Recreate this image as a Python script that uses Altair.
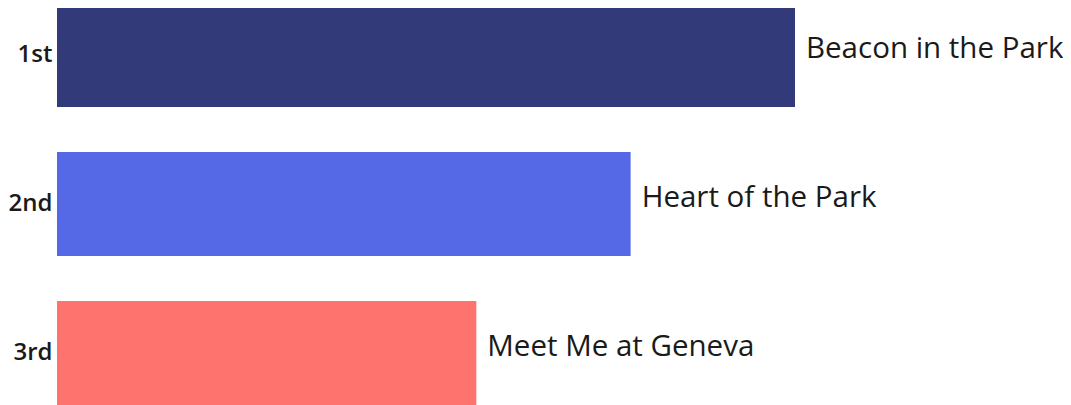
import altair as alt
import pandas as pd

ranks = ["1st", "2nd", "3rd"]
names = ["Beacon in the Park", "Heart of the Park", "Meet Me at Geneva"]
values = [44, 34.2, 25]
colors = ["#323a79", "#5569e6", "#ff736e"]

df = pd.DataFrame({"rank": ranks, "name": names, "value": values})

y_enc = alt.Y("rank:N", sort=ranks,
              scale=alt.Scale(range=[-5, 397], paddingInner=0.302, paddingOuter=0),
              axis=alt.Axis(title=None, ticks=False, domain=False, labelPadding=5,
                            labelFontSize=24, labelFont="Open Sans", labelFontWeight=600,
                            labelColor="#1a1a1a"))
x_enc = alt.X("value:Q", scale=alt.Scale(domain=[0, 44], range=[0, 738], nice=False, zero=True),
              axis=None)

bars = alt.Chart(df).mark_bar().encode(
    x=x_enc, y=y_enc,
    color=alt.Color("rank:N", scale=alt.Scale(domain=ranks, range=colors), legend=None),
)

labels = alt.Chart(df).mark_text(
    align="left", baseline="middle", dx=11, dy=-6,
    font="Open Sans", fontSize=29.5, color="#1a1a1a",
).encode(x=x_enc, y=y_enc, text="name:N")

chart = (bars + labels).properties(
    width=1006, height=397,
    autosize=alt.AutoSizeParams(type="none"),
    padding={"left": 49, "top": 0, "right": 0, "bottom": 0},
).configure_view(stroke=None)

chart.save("out.html", embed_options={"renderer": "svg", "actions": False})
